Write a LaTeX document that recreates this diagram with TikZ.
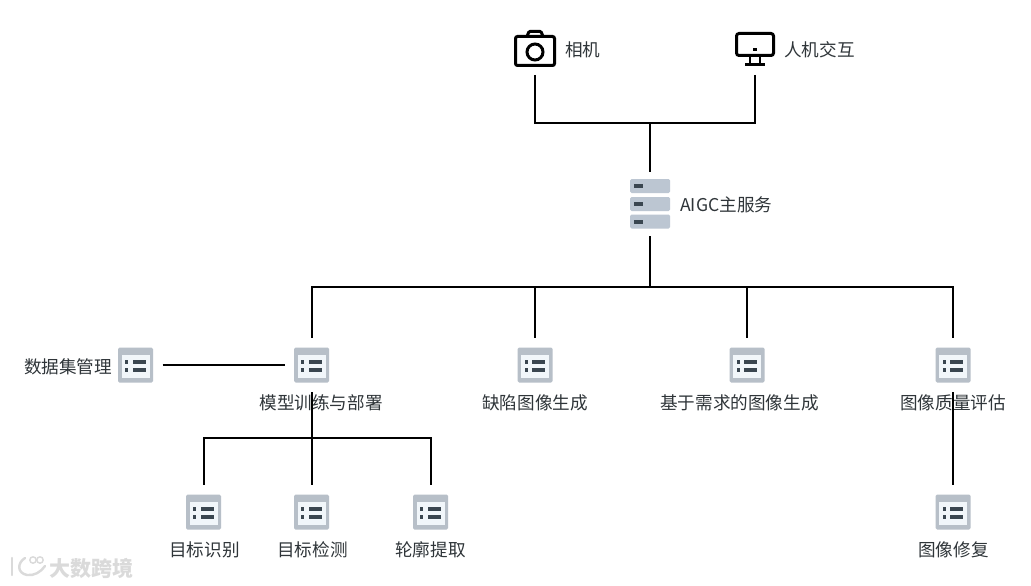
\documentclass[tikz,border=0pt]{standalone}
\usepackage{fontspec}
\setmainfont{Noto Sans CJK SC}
\usetikzlibrary{positioning}
\definecolor{diagramink}{HTML}{2F3539}
\definecolor{iconframe}{HTML}{B7BFC8}
\definecolor{iconpage}{HTML}{F1F6FA}
\definecolor{iconbar}{HTML}{3A4650}
\definecolor{serverbar}{HTML}{BCC6D2}
\definecolor{markgrey}{HTML}{DADADA}

\tikzset{
  listicon/.style={minimum size=35pt,inner sep=0pt,outer sep=9.5pt,rounded corners=1.5pt,fill=iconframe,
    path picture={
      \begin{scope}[shift={(path picture bounding box.center)},sharp corners]
        \fill[iconpage] (-14,-10) rectangle (14,12.5);
        \fill[iconbar] (-10.5,-5) rectangle (-7.5,-1.5);
        \fill[iconbar] (-10.5,3) rectangle (-7.5,6.5);
        \fill[iconbar] (-3,-5) rectangle (10,-1.5);
        \fill[iconbar] (-3,3) rectangle (10,6.5);
      \end{scope}}},
  servericon/.style={minimum width=40pt,minimum height=50pt,inner sep=0pt,outer sep=7pt,
    path picture={
      \begin{scope}[shift={(path picture bounding box.center)}]
        \foreach \rowy in {-18,0,17.5}{
          \fill[serverbar,rounded corners=1.5pt] (-20,\rowy-7) rectangle (20,\rowy+7);
          \fill[iconbar] (-16,\rowy-2) rectangle (-7,\rowy+2);
        }
      \end{scope}}},
  cameraicon/.style={minimum size=44pt,inner sep=0pt,outer sep=5pt,
    path picture={
      \begin{scope}[shift={(path picture bounding box.center)}]
        \draw[black,line width=3pt,rounded corners=2pt] (-19.5,-11.5) rectangle (19.5,17.5);
        \draw[black,line width=3pt,rounded corners=1pt] (-8,-11.5) -- (-6,-16.5) -- (6,-16.5) -- (8,-11.5);
        \draw[black,line width=3pt] (0,4) circle (8);
      \end{scope}}},
  monitoricon/.style={minimum size=44pt,inner sep=0pt,outer sep=4pt,
    path picture={
      \begin{scope}[shift={(path picture bounding box.center)}]
        \draw[black,line width=3pt,rounded corners=2.5pt] (-18.5,-15.5) rectangle (18.5,6.5);
        \fill[black] (-1.7,-.5) rectangle (1.7,2.5);
        \draw[black,line width=2.6pt] (-5,7) -- (-5,15);
        \draw[black,line width=2.6pt] (5,7) -- (5,15);
        \draw[black,line width=2.6pt] (-10,15.5) -- (10,15.5);
      \end{scope}}},
  itemlabel/.style={font=\fontsize{17.6}{20}\selectfont,text=diagramink,inner sep=0pt},
  link/.style={black,line width=2pt,line cap=butt},
}

\begin{document}
\begin{tikzpicture}[x=1pt,y=-1pt]
        \useasboundingbox[fill=white] (0,0) rectangle (1031,586);

        \node[cameraicon] (camera) at (535,48) {};
        \node[monitoricon] (monitor) at (755,49) {};
        \node[servericon] (server) at (650,204) {};
        \node[itemlabel,anchor=west] (cameralabel) at (565,50) {相机};
        \node[itemlabel,anchor=west] (monitorlabel) at (784,50) {人机交互};
        \node[itemlabel,anchor=west] (serverlabel) at (680,205) {AIGC主服务};

        \node[listicon] (dataset) at (135.5,365) {};
        \node[listicon] (train) at (311.5,365) {};
        \node[listicon] (defect) at (535,365) {};
        \node[listicon] (demand) at (747,365) {};
        \node[listicon] (quality) at (953,365) {};
        \node[listicon] (recog) at (203.5,512) {};
        \node[listicon] (detect) at (311.5,512) {};
        \node[listicon] (contour) at (430.5,512) {};
        \node[listicon] (repair) at (953,512) {};

        \node[itemlabel] (datasetlabel) at (68,367) {数据集管理};
        \node[itemlabel] (trainlabel) at (321,403) {模型训练与部署};
        \node[itemlabel] (defectlabel) at (535,403) {缺陷图像生成};
        \node[itemlabel] (demandlabel) at (739.5,403) {基于需求的图像生成};
        \node[itemlabel] (qualitylabel) at (953,403) {图像质量评估};
        \node[itemlabel] (recoglabel) at (204.5,550) {目标识别};
        \node[itemlabel] (detectlabel) at (312.5,550) {目标检测};
        \node[itemlabel] (contourlabel) at (430.5,550) {轮廓提取};
        \node[itemlabel] (repairlabel) at (953.5,550) {图像修复};

        \coordinate (topjoin) at (650,123);
        \coordinate (hubjoin) at (650,287);
        \coordinate (trainjoin) at (311.5,438);

        \draw[link] (camera.south) |- (topjoin);
        \draw[link] (monitor.south) |- (topjoin);
        \draw[link] (topjoin) -- (server.north);
        \draw[link,line width=2.4pt] (server.south) -- (hubjoin);
        \draw[link] (hubjoin) -| (train.north);
        \draw[link] (hubjoin) -| (defect.north);
        \draw[link] (hubjoin) -| (demand.north);
        \draw[link] (hubjoin) -| (quality.north);
        \draw[link] (dataset.east) -- (train.west);
        \draw[link] (train.south) -- (detect.north);
        \draw[link] (trainjoin) -| (recog.north);
        \draw[link] (trainjoin) -| (contour.north);
        \draw[link] (quality.south) -- (repair.north);

        % watermark
        \node[font=\fontsize{21}{24}\selectfont\bfseries,text=markgrey,inner sep=0pt] (marktext) at (91.5,568) {大数跨境};
        \draw[markgrey,line width=2.4pt,line cap=round] (12,558) -- (12,575);
        \draw[markgrey,line width=2.4pt,line cap=round] (25,558) .. controls (17,563) and (17,573) .. (27,575) .. controls (34,576) and (41,572) .. (45,566);
        \draw[markgrey,line width=1.4pt] (33,560) circle (3.2);
        \draw[markgrey,line width=1.4pt] (40,560) circle (3.2);
      \end{tikzpicture}
\end{document}
